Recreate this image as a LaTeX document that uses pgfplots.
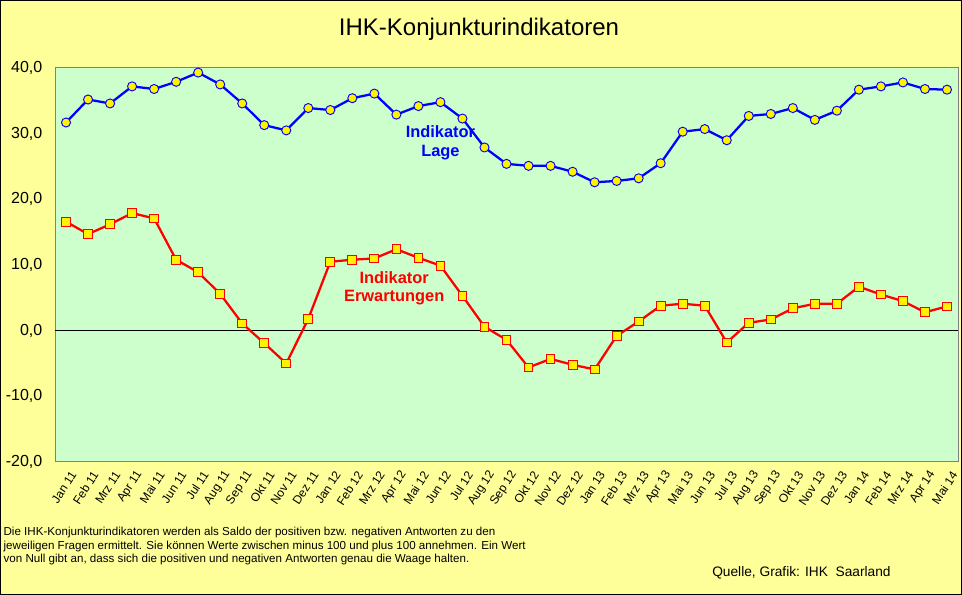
\documentclass[border=0pt]{standalone}
\usepackage{fontspec}
\setmainfont{Liberation Sans}
\usepackage{pgfplots}
\pgfplotsset{compat=1.18}
\definecolor{bgyellow}{HTML}{FFFF99}
\definecolor{plotgreen}{HTML}{CCFFCC}
\begin{document}
\begin{tikzpicture}
\path[use as bounding box] (0,0) rectangle (721.5pt,446.25pt);
\fill[bgyellow] (0,0) rectangle (721.5pt,446.25pt);
\draw[black, line width=1pt] (0.5pt,0.5pt) rectangle (721pt,445.75pt);
\node[font=\fontsize{18}{21}\selectfont] at (359.25pt,424.5pt) {IHK-Konjunkturindikatoren};
\begin{axis}[
  at={(41.25pt,99.75pt)}, anchor=south west,
  scale only axis, width=677.25pt, height=295.5pt,
  xmin=-0.5, xmax=40.5, ymin=-20, ymax=40,
  axis background/.style={fill=plotgreen},
  axis line style={draw=gray, line width=0.75pt},
  major tick length=0pt,
  ytick={-20,-10,...,40},
  /pgf/number format/assume math mode=true,
  y tick label style={/pgf/number format/fixed, /pgf/number format/fixed zerofill, /pgf/number format/precision=1, /pgf/number format/use comma, font=\fontsize{12}{14}\selectfont, xshift=-6pt},
  xtick={0,...,40},
  xticklabels={Jan 11,Feb 11,Mrz 11,Apr 11,Mai 11,Jun 11,Jul 11,Aug 11,Sep 11,Okt 11,Nov 11,Dez 11,Jan 12,Feb 12,Mrz 12,Apr 12,Mai 12,Jun 12,Jul 12,Aug 12,Sep 12,Okt 12,Nov 12,Dez 12,Jan 13,Feb 13,Mrz 13,Apr 13,Mai 13,Jun 13,Jul 13,Aug 13,Sep 13,Okt 13,Nov 13,Dez 13,Jan 14,Feb 14,Mrz 14,Apr 14,Mai 14},
  x tick label style={rotate=57, anchor=east, font=\fontsize{9}{10}\selectfont, yshift=-9pt},
]
\draw[black, line width=0.75pt] (axis cs:-0.5,0) -- (axis cs:40.5,0);
\addplot[blue, line width=1.7pt, mark=*, mark size=3.4pt, mark options={fill=yellow, draw=blue, line width=0.7pt}] coordinates {
(0,31.7) (1,35.2) (2,34.6) (3,37.2) (4,36.8) (5,37.9) (6,39.3) (7,37.5) (8,34.6) (9,31.3)
(10,30.5) (11,33.9) (12,33.6) (13,35.4) (14,36.1) (15,32.9) (16,34.2) (17,34.8) (18,32.3) (19,27.9)
(20,25.4) (21,25.1) (22,25.1) (23,24.2) (24,22.6) (25,22.8) (26,23.2) (27,25.5) (28,30.3) (29,30.7)
(30,29.0) (31,32.7) (32,33.0) (33,33.9) (34,32.1) (35,33.5) (36,36.7) (37,37.2) (38,37.8) (39,36.8)
(40,36.7)};
\addplot[red, line width=1.7pt, mark=square*, mark size=3.3pt, mark options={fill=yellow, draw=red, line width=0.7pt}] coordinates {
(0,16.6) (1,14.7) (2,16.2) (3,17.9) (4,17.1) (5,10.8) (6,8.9) (7,5.6) (8,1.1) (9,-1.9)
(10,-5.0) (11,1.8) (12,10.5) (13,10.8) (14,11.0) (15,12.4) (16,11.1) (17,9.9) (18,5.3) (19,0.6)
(20,-1.4) (21,-5.6) (22,-4.3) (23,-5.2) (24,-5.9) (25,-0.8) (26,1.4) (27,3.8) (28,4.1) (29,3.8)
(30,-1.8) (31,1.2) (32,1.7) (33,3.4) (34,4.1) (35,4.1) (36,6.7) (37,5.5) (38,4.5) (39,2.8)
(40,3.7)};
\node[align=center, text=blue, font=\bfseries\fontsize{12.3}{14.3}\selectfont] at (axis cs:17.0,28.6) {Indikator\\Lage};
\node[align=center, text=red, font=\bfseries\fontsize{12.3}{13.5}\selectfont] at (axis cs:14.9,6.5) {Indikator\\Erwartungen};
\end{axis}
\node[anchor=base west, inner sep=0pt, font=\fontsize{8.7}{10}\selectfont] at (2.5pt,44.25pt) {Die IHK-Konjunkturindikatoren werden als Saldo der positiven bzw. negativen Antworten zu den};
\node[anchor=base west, inner sep=0pt, font=\fontsize{8.7}{10}\selectfont] at (2.5pt,34.1pt) {jeweiligen Fragen ermittelt. Sie können Werte zwischen minus 100 und plus 100 annehmen. Ein Wert};
\node[anchor=base west, inner sep=0pt, font=\fontsize{8.7}{10}\selectfont] at (2.5pt,24pt) {von Null gibt an, dass sich die positiven und negativen Antworten genau die Waage halten.};
\node[anchor=base west, inner sep=0pt, font=\fontsize{10.3}{12}\selectfont] at (534pt,13.5pt) {Quelle, Grafik: IHK\ \ Saarland};
\end{tikzpicture}
\end{document}
